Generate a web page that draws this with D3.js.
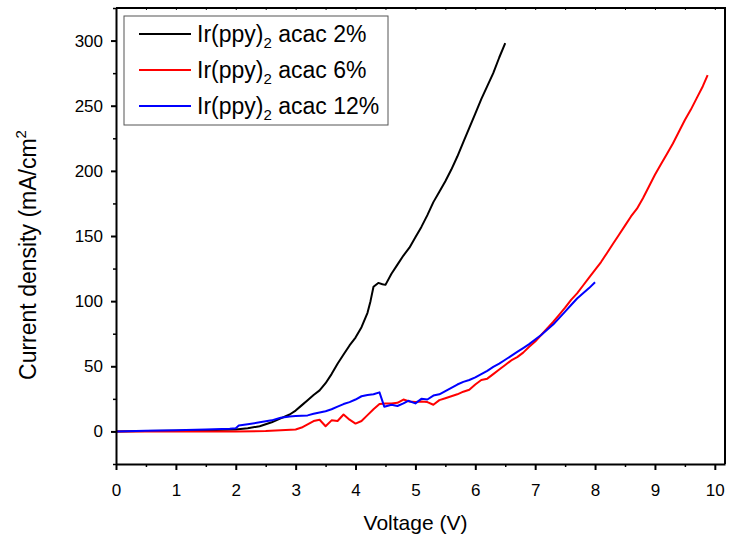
<!DOCTYPE html>
<html>
<head>
<meta charset="utf-8">
<script src="https://cdn.jsdelivr.net/npm/d3@7"></script>
<style>
  body { margin: 0; background: #fff; }
  svg { font-family: "Liberation Sans", Arial, sans-serif; }
</style>
</head>
<body>
<svg width="729" height="541"></svg>
<script>
const width = 729, height = 541;
const marginLeft = 116, marginRight = 4, marginTop = 8, marginBottom = 77;
const svg = d3.select("svg");

// Ir(ppy)2 acac 2%
const volt2 = [0, 0.5, 1, 1.5, 2, 2.2, 2.4, 2.6, 2.75, 2.9, 3, 3.1, 3.2, 3.3, 3.4, 3.5, 3.6, 3.7, 3.8, 3.9, 4, 4.1, 4.2, 4.25, 4.3, 4.38, 4.45, 4.5, 4.6, 4.7, 4.8, 4.9, 5, 5.1, 5.2, 5.3, 5.4, 5.5, 5.6, 5.7, 5.8, 5.9, 6, 6.1, 6.2, 6.3, 6.4, 6.5];
const curr2 = [0, 0.3, 0.6, 1, 1.5, 2.5, 4, 7, 10, 13, 16, 20, 24, 28, 31.5, 37, 44, 52, 59, 66, 72, 80, 91, 100, 111, 114, 113, 112.5, 121, 128, 135, 141, 149, 157, 166, 176, 184, 192, 201, 211, 222, 233, 244, 255, 265, 275, 287, 298];

// Ir(ppy)2 acac 6%
const volt6 = [0, 1, 2, 2.5, 3, 3.1, 3.2, 3.3, 3.4, 3.5, 3.6, 3.7, 3.8, 3.9, 4, 4.1, 4.2, 4.3, 4.4, 4.5, 4.6, 4.7, 4.8, 4.9, 5, 5.1, 5.2, 5.3, 5.4, 5.5, 5.6, 5.7, 5.8, 5.9, 6, 6.1, 6.2, 6.3, 6.4, 6.5, 6.6, 6.7, 6.8, 6.9, 7, 7.1, 7.2, 7.3, 7.4, 7.5, 7.6, 7.7, 7.8, 7.9, 8, 8.1, 8.2, 8.3, 8.4, 8.5, 8.6, 8.7, 8.8, 8.9, 9, 9.1, 9.2, 9.3, 9.4, 9.5, 9.6, 9.7, 9.8, 9.88];
const curr6 = [0, 0, 0, 0.3, 1.5, 3, 5.5, 8, 9, 4, 8.5, 8, 13, 9, 6, 8, 12.5, 17, 21, 21.5, 21.5, 22, 24.5, 23, 22.5, 23, 22.5, 20.5, 24, 25.5, 27, 28.5, 30.5, 32, 36, 39.5, 40.5, 44, 47.5, 51, 54.5, 57, 60.5, 65, 69, 74, 79, 84, 89.5, 95, 101, 106, 112, 118, 124, 130, 137, 144, 151, 158, 165, 171, 179, 188, 197, 205, 213, 221, 230, 239, 247, 256, 265, 273.5];

// Ir(ppy)2 acac 12%
const volt12 = [0, 0.5, 1, 1.5, 1.9, 2, 2.05, 2.2, 2.4, 2.6, 2.75, 2.9, 3, 3.2, 3.3, 3.4, 3.5, 3.6, 3.7, 3.8, 3.9, 4, 4.1, 4.2, 4.3, 4.4, 4.48, 4.6, 4.7, 4.8, 4.88, 5, 5.1, 5.2, 5.3, 5.4, 5.5, 5.6, 5.7, 5.8, 5.9, 6, 6.1, 6.2, 6.3, 6.4, 6.5, 6.6, 6.7, 6.8, 6.9, 7, 7.1, 7.2, 7.3, 7.4, 7.5, 7.6, 7.7, 7.8, 7.9, 8];
const curr12 = [0, 0.5, 1, 1.5, 2, 2.5, 4.5, 5.5, 7, 8.5, 10.5, 11.5, 11.8, 12.3, 13.5, 14.5, 15.5, 17, 19, 21, 22.5, 24.5, 27, 28, 28.5, 30, 19, 20.5, 19.5, 21.5, 23.5, 21.5, 25, 24.5, 27.5, 28.5, 31, 33.5, 36, 38, 39.5, 41.5, 44, 46.5, 49.5, 52, 55, 58, 61, 64, 67, 70.5, 74, 78, 82, 87, 92, 97, 102, 106, 110, 114.5];

const xTicks = [0, 1, 2, 3, 4, 5, 6, 7, 8, 9, 10];
const xMinorTicks = [0.5, 1.5, 2.5, 3.5, 4.5, 5.5, 6.5, 7.5, 8.5, 9.5];
const yTicks = [0, 50, 100, 150, 200, 250, 300];
const yMinorTicks = [-25, 25, 75, 125, 175, 225, 275, 325];

const seriesNames = ["2%", "6%", "12%"];
const seriesColors = ["#000000", "#ff0000", "#0000ff"];

const series = [
    { volt: volt2, curr: curr2 },
    { volt: volt6, curr: curr6 },
    { volt: volt12, curr: curr12 }
].map((s, i) => ({
    name: seriesNames[i],
    color: seriesColors[i],
    values: s.volt.map((v, k) => ({ v: v, j: s.curr[k] }))
}));

// Scales
const xScale = d3.scaleLinear()
    .domain([0, 10.17])
    .range([marginLeft, width - marginRight]);

const yScale = d3.scaleLinear()
    .domain([-25, 325])
    .range([height - marginBottom, marginTop]);

// Lines
const lineGen = d3.line()
    .x(d => xScale(d.v))
    .y(d => yScale(d.j));

svg.append("g")
    .selectAll("path")
    .data(series)
    .join("path")
    .attr("fill", "none")
    .attr("stroke", d => d.color)
    .attr("stroke-width", 2)
    .attr("stroke-linejoin", "round")
    .attr("d", d => lineGen(d.values));

// Frame (top + right)
const [x0, x1] = xScale.range();
const [y0, y1] = yScale.range();
svg.append("path")
    .attr("fill", "none")
    .attr("stroke", "#000")
    .attr("stroke-width", 2)
    .attr("d", `M${x0},${y1}H${x1}V${y0}`);

// small ticks on top edge
svg.append("g")
    .attr("transform", `translate(0, ${y1})`)
    .call(d3.axisBottom(xScale).tickValues(xTicks.concat(xMinorTicks)).tickSize(2).tickFormat(""))
    .call(g => g.select(".domain").remove())
    .call(g => g.selectAll("line").attr("stroke-width", 1));

// X axis
svg.append("g")
    .attr("transform", `translate(0, ${y0})`)
    .call(d3.axisBottom(xScale).tickValues(xMinorTicks).tickSize(3).tickFormat(""))
    .call(g => g.select(".domain").remove())
    .call(g => g.selectAll("line").attr("stroke-width", 1.5));

svg.append("g")
    .attr("transform", `translate(0, ${y0})`)
    .call(d3.axisBottom(xScale).tickValues(xTicks).tickSize(6).tickPadding(14).tickSizeOuter(0))
    .call(g => g.select(".domain").attr("stroke-width", 2))
    .call(g => g.selectAll("line").attr("stroke-width", 2))
    .call(g => g.selectAll("text").style("font-size", "17px").attr("fill", "#000"));

svg.append("text")
    .attr("x", (x0 + x1) / 2 - 5)
    .attr("y", 530)
    .attr("text-anchor", "middle")
    .style("font-size", "21px")
    .text("Voltage (V)");

// Y axis
svg.append("g")
    .attr("transform", `translate(${x0}, 0)`)
    .call(d3.axisLeft(yScale).tickValues(yMinorTicks).tickSize(3).tickFormat(""))
    .call(g => g.select(".domain").remove())
    .call(g => g.selectAll("line").attr("stroke-width", 1.5));

svg.append("g")
    .attr("transform", `translate(${x0}, 0)`)
    .call(d3.axisLeft(yScale).tickValues(yTicks).tickSize(5).tickPadding(8).tickSizeOuter(0))
    .call(g => g.select(".domain").attr("stroke-width", 2))
    .call(g => g.selectAll("line").attr("stroke-width", 2))
    .call(g => g.selectAll("text").style("font-size", "17px").attr("fill", "#000"));

const yLabel = svg.append("text")
    .attr("transform", "rotate(-90)")
    .attr("x", -255)
    .attr("y", 36)
    .attr("text-anchor", "middle")
    .style("font-size", "23px")
    .text("Current density (mA/cm");
yLabel.append("tspan")
    .attr("dy", -10)
    .style("font-size", "15px")
    .text("2");

// Legend
const legend = svg.append("g")
    .attr("transform", "translate(124, 16)");

legend.append("rect")
    .attr("width", 264)
    .attr("height", 109)
    .attr("fill", "#fff")
    .attr("stroke", "#555")
    .attr("stroke-width", 1);

series.forEach((s, i) => {
    const yy = 18 + i * 36;
    legend.append("line")
        .attr("x1", 15)
        .attr("x2", 67)
        .attr("y1", yy)
        .attr("y2", yy)
        .attr("stroke", s.color)
        .attr("stroke-width", 2);

    const t = legend.append("text")
        .attr("x", 73)
        .attr("y", yy + 8)
        .style("font-size", "23px")
        .text("Ir(ppy)");
    t.append("tspan")
        .attr("dy", 6)
        .style("font-size", "15px")
        .text("2");
    t.append("tspan")
        .attr("dy", -6)
        .text(" acac " + s.name);
});
</script>
</body>
</html>
